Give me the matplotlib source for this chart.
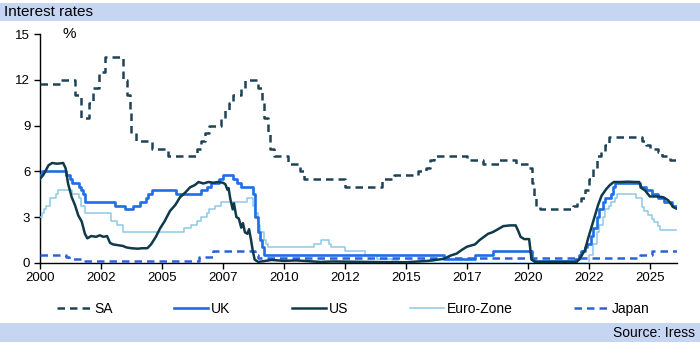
import matplotlib
matplotlib.use("Agg")
import matplotlib.pyplot as plt
from matplotlib.patches import Rectangle

plt.rcParams['font.family'] = ['Liberation Sans', 'DejaVu Sans']

# ---------------- data (decimal years, % rates) ----------------
SA_t = [2000.0, 2000.8, 2001.42, 2001.67, 2002.0, 2002.17, 2002.42, 2002.67, 2003.42, 2003.58,
        2003.67, 2003.75, 2003.92, 2004.58, 2005.25, 2006.42, 2006.58, 2006.75, 2006.92, 2007.42,
        2007.58, 2007.75, 2007.92, 2008.25, 2008.42, 2008.92, 2009.08, 2009.17, 2009.33, 2009.42,
        2009.58, 2010.17, 2010.67, 2010.83, 2012.5, 2014.0, 2014.5, 2015.5, 2015.83, 2016.0,
        2016.17, 2017.5, 2018.17, 2018.83, 2019.5, 2020.0, 2020.17, 2020.25, 2020.33, 2020.5,
        2021.83, 2022.0, 2022.17, 2022.33, 2022.5, 2022.67, 2022.83, 2023.0, 2023.17, 2023.33,
        2024.67, 2024.83, 2025.0, 2025.33, 2025.5, 2025.83, 2026.1]
SA_v = [11.75, 12.0, 11.0, 9.5, 10.5, 11.5, 12.5, 13.5, 12.0, 11.0,
        10.0, 8.5, 8.0, 7.5, 7.0, 7.5, 8.0, 8.5, 9.0, 9.5,
        10.0, 10.5, 11.0, 11.5, 12.0, 11.5, 10.5, 9.5, 8.5, 7.5,
        7.0, 6.5, 6.0, 5.5, 5.0, 5.5, 5.75, 6.0, 6.25, 6.75,
        7.0, 6.75, 6.5, 6.75, 6.5, 6.25, 5.25, 4.25, 3.75, 3.5,
        3.75, 4.0, 4.25, 4.75, 5.5, 6.25, 7.0, 7.25, 7.75, 8.25,
        8.0, 7.75, 7.5, 7.25, 7.0, 6.75, 6.75]

UK_t = [2000.0, 2000.08, 2001.08, 2001.25, 2001.33, 2001.58, 2001.67, 2001.75, 2001.83, 2003.08,
        2003.5, 2003.83, 2004.08, 2004.33, 2004.42, 2004.58, 2005.58, 2006.58, 2006.83, 2007.0,
        2007.33, 2007.5, 2007.92, 2008.08, 2008.25, 2008.75, 2008.83, 2008.92, 2009.0, 2009.08,
        2009.17, 2016.58, 2017.83, 2018.58, 2020.17, 2020.25, 2021.92, 2022.08, 2022.17, 2022.33,
        2022.42, 2022.58, 2022.67, 2022.83, 2022.92, 2023.08, 2023.17, 2023.42, 2023.5, 2023.58,
        2024.58, 2024.83, 2025.08, 2025.33, 2025.58, 2025.92, 2026.1]
UK_v = [5.75, 6.0, 5.75, 5.5, 5.25, 5.0, 4.75, 4.5, 4.0, 3.75,
        3.5, 3.75, 4.0, 4.25, 4.5, 4.75, 4.5, 4.75, 5.0, 5.25,
        5.5, 5.75, 5.5, 5.25, 5.0, 4.5, 3.0, 2.0, 1.5, 1.0,
        0.5, 0.25, 0.5, 0.75, 0.25, 0.1, 0.25, 0.5, 0.75, 1.0,
        1.25, 1.75, 2.25, 3.0, 3.5, 4.0, 4.25, 4.5, 5.0, 5.25,
        5.0, 4.75, 4.5, 4.25, 4.0, 3.75, 3.75]

US_t = [2000.0, 2000.15, 2000.35, 2000.5, 2000.7, 2000.95, 2001.05, 2001.15, 2001.3, 2001.43,
        2001.57, 2001.71, 2001.84, 2001.94, 2002.1, 2002.3, 2002.45, 2002.6, 2002.75, 2002.87,
        2003.0, 2003.2, 2003.4, 2003.55, 2003.75, 2004.0, 2004.2, 2004.4, 2004.55, 2004.75,
        2004.92, 2005.1, 2005.33, 2005.55, 2005.74, 2005.95, 2006.15, 2006.35, 2006.5, 2006.7,
        2006.9, 2007.1, 2007.3, 2007.5, 2007.6, 2007.68, 2007.73, 2007.8, 2007.9, 2007.95,
        2008.05, 2008.15, 2008.25, 2008.32, 2008.4, 2008.5, 2008.57, 2008.65, 2008.72, 2008.8,
        2008.95, 2009.5, 2010.0, 2010.5, 2011.0, 2011.5, 2012.0, 2013.0, 2014.0, 2015.0,
        2015.9, 2016.3, 2016.55, 2016.8, 2017.08, 2017.3, 2017.5, 2017.83, 2018.03, 2018.2,
        2018.37, 2018.55, 2018.72, 2018.99, 2019.26, 2019.5, 2019.6, 2019.7, 2019.85, 2020.05,
        2020.15, 2020.3, 2021.0, 2022.0, 2022.13, 2022.34, 2022.47, 2022.61, 2022.75, 2022.88,
        2023.02, 2023.22, 2023.36, 2023.52, 2023.8, 2024.1, 2024.4, 2024.56, 2024.66, 2024.8,
        2025.0, 2025.3, 2025.55, 2025.75, 2025.96, 2026.1]
US_v = [5.5, 5.8, 6.4, 6.55, 6.5, 6.55, 6.2, 5.2, 4.3, 3.8,
        3.1, 2.7, 1.9, 1.6, 1.75, 1.7, 1.8, 1.7, 1.75, 1.3,
        1.2, 1.15, 1.1, 1.0, 0.95, 0.92, 0.95, 0.95, 1.2, 1.7,
        2.25, 2.7, 3.4, 3.8, 4.3, 4.6, 4.95, 5.1, 5.3, 5.2,
        5.3, 5.25, 5.3, 5.25, 5.15, 4.8, 4.9, 4.2, 3.5, 3.9,
        3.0, 2.9, 2.3, 2.6, 2.0, 1.9, 2.2, 1.5, 0.8, 0.2,
        0.05, 0.18, 0.12, 0.15, 0.1, 0.05, 0.08, 0.06, 0.04, 0.03,
        0.12, 0.2, 0.25, 0.45, 0.6, 0.85, 1.05, 1.2, 1.5, 1.7,
        1.9, 2.0, 2.15, 2.4, 2.45, 2.45, 2.1, 1.7, 1.55, 1.55,
        0.2, 0.05, 0.05, 0.05, 0.28, 0.83, 1.6, 2.35, 3.1, 3.8,
        4.4, 4.85, 5.1, 5.3, 5.3, 5.32, 5.3, 5.3, 4.9, 4.75,
        4.35, 4.35, 4.3, 4.1, 3.65, 3.55]

EU_t = [2000.0, 2000.08, 2000.17, 2000.25, 2000.42, 2000.67, 2000.75, 2001.33, 2001.58, 2001.67,
        2001.83, 2002.92, 2003.17, 2003.42, 2005.92, 2006.17, 2006.42, 2006.58, 2006.83, 2006.92,
        2007.17, 2007.42, 2008.5, 2008.75, 2008.83, 2008.92, 2009.0, 2009.17, 2009.25, 2009.33,
        2011.25, 2011.5, 2011.83, 2011.92, 2012.5, 2013.33, 2013.83, 2014.42, 2014.67, 2016.17,
        2022.5, 2022.67, 2022.83, 2022.92, 2023.08, 2023.17, 2023.33, 2023.42, 2023.58, 2023.67,
        2024.42, 2024.67, 2024.75, 2024.92, 2025.08, 2025.17, 2025.33, 2025.42, 2026.1]
EU_v = [3.0, 3.25, 3.5, 3.75, 4.25, 4.5, 4.75, 4.5, 4.25, 3.75,
        3.25, 2.75, 2.5, 2.0, 2.25, 2.5, 2.75, 3.0, 3.25, 3.5,
        3.75, 4.0, 4.25, 3.75, 3.25, 2.5, 2.0, 1.5, 1.25, 1.0,
        1.25, 1.5, 1.25, 1.0, 0.75, 0.5, 0.25, 0.15, 0.05, 0.0,
        0.5, 1.25, 2.0, 2.5, 3.0, 3.5, 3.75, 4.0, 4.25, 4.5,
        4.25, 3.65, 3.4, 3.15, 2.9, 2.65, 2.4, 2.15, 2.15]

JP_t = [2000.0, 2001.08, 2001.17, 2001.67, 2006.5, 2007.08, 2008.83, 2008.92, 2024.58, 2025.08, 2026.1]
JP_v = [0.5, 0.35, 0.25, 0.1, 0.4, 0.75, 0.5, 0.3, 0.5, 0.75, 0.75]

tick_pos = [2000, 2002.5, 2005, 2007.5, 2010, 2012.5, 2015, 2017.5, 2020, 2022.5, 2025]
tick_lab = ['2000', '2002', '2005', '2007', '2010', '2012', '2015', '2017', '2020', '2022', '2025']
y_ticks = [0, 3, 6, 9, 12, 15]

# ---------------- figure ----------------
W, H = 700, 350
fig = plt.figure(figsize=(7, 3.5), dpi=100)
band = '#c6d6f2'
fig.patches.append(Rectangle((0, 1 - 21 / H), 1, 18 / H, transform=fig.transFigure,
                             facecolor=band, edgecolor='none', zorder=0))
fig.patches.append(Rectangle((0, 1 - 342 / H), 1, 19 / H, transform=fig.transFigure,
                             facecolor=band, edgecolor='none', zorder=0))
fig.text(4 / W, 1 - 12 / H, 'Interest rates', fontsize=11, va='center', ha='left')
fig.text(695 / W, 1 - 333 / H, 'Source: Iress', fontsize=10, va='center', ha='right')

ax = fig.add_axes([40 / W, 1 - 262.7 / H, (676.7 - 40) / W, (262.7 - 34.3) / H])

c_sa = '#1e4357'
c_uk = '#1f6ee6'
c_us = '#0e3a4a'
c_eu = '#8fc9e6'
c_jp = '#2c62d6'

ax.step(SA_t, SA_v, where='post', color=c_sa, lw=1.8, dashes=(3, 2), label='SA', zorder=3)
ax.step(UK_t, UK_v, where='post', color=c_uk, lw=1.9, label='UK', zorder=4)
ax.plot(US_t, US_v, color=c_us, lw=1.8, label='US', zorder=5)
ax.step(EU_t, EU_v, where='post', color=c_eu, lw=1.1, label='Euro-Zone', zorder=3)
ax.step(JP_t, JP_v, where='post', color=c_jp, lw=1.8, dashes=(3, 2), label='Japan', zorder=3)

ax.set_xlim(2000, 2026.1)
ax.set_ylim(0, 15)
ax.set_xticks(tick_pos)
ax.set_xticklabels(tick_lab)
ax.set_yticks(y_ticks)
ax.tick_params(axis='both', direction='out', length=4, width=1, labelsize=9.5, pad=3, color='black')
for s in ['top', 'right']:
    ax.spines[s].set_visible(False)
for s in ['left', 'bottom']:
    ax.spines[s].set_color('black')
    ax.spines[s].set_linewidth(1)
ax.patch.set_alpha(0)
ax.text(0.035, 1.0, '%', transform=ax.transAxes, fontsize=11, va='center', ha='left')

fig.legend(loc='center', bbox_to_anchor=(353 / W, 1 - 309 / H), ncol=5, frameon=False,
           fontsize=10, handlelength=2.5, handletextpad=0.2, columnspacing=4.4)

fig.savefig('out.png', dpi=100)
